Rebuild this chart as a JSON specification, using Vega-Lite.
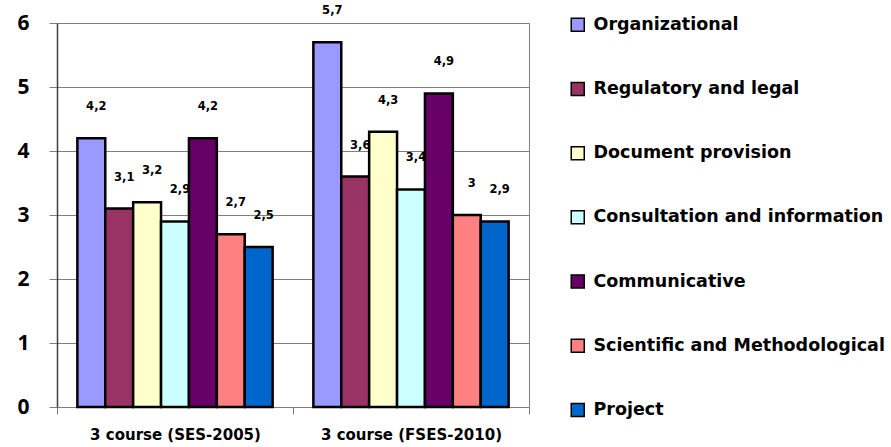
{
  "$schema": "https://vega.github.io/schema/vega-lite/v6.json",
  "width": 472,
  "height": 384,
  "autosize": {"type": "none"},
  "padding": {"left": 57, "top": 23, "right": 362, "bottom": 40},
  "background": "white",
  "config": {
    "font": "DejaVu Sans",
    "view": {"stroke": "#808080", "strokeWidth": 1}
  },
  "data": {
    "values": [
      {"group": "3 course (SES-2005)", "type": "Organizational", "value": 4.2, "label": "4,2"},
      {"group": "3 course (SES-2005)", "type": "Regulatory and legal", "value": 3.1, "label": "3,1"},
      {"group": "3 course (SES-2005)", "type": "Document provision", "value": 3.2, "label": "3,2"},
      {"group": "3 course (SES-2005)", "type": "Consultation and information", "value": 2.9, "label": "2,9"},
      {"group": "3 course (SES-2005)", "type": "Communicative", "value": 4.2, "label": "4,2"},
      {"group": "3 course (SES-2005)", "type": "Scientific and Methodological", "value": 2.7, "label": "2,7"},
      {"group": "3 course (SES-2005)", "type": "Project", "value": 2.5, "label": "2,5"},
      {"group": "3 course (FSES-2010)", "type": "Organizational", "value": 5.7, "label": "5,7"},
      {"group": "3 course (FSES-2010)", "type": "Regulatory and legal", "value": 3.6, "label": "3,6"},
      {"group": "3 course (FSES-2010)", "type": "Document provision", "value": 4.3, "label": "4,3"},
      {"group": "3 course (FSES-2010)", "type": "Consultation and information", "value": 3.4, "label": "3,4"},
      {"group": "3 course (FSES-2010)", "type": "Communicative", "value": 4.9, "label": "4,9"},
      {"group": "3 course (FSES-2010)", "type": "Scientific and Methodological", "value": 3.0, "label": "3"},
      {"group": "3 course (FSES-2010)", "type": "Project", "value": 2.9, "label": "2,9"}
    ]
  },
  "encoding": {
    "x": {
      "field": "group", "type": "nominal", "sort": null,
      "scale": {"paddingInner": 0, "paddingOuter": 0},
      "axis": {
        "title": null, "labelAngle": 0, "tickBand": "extent",
        "domainColor": "#808080", "tickColor": "#808080", "tickSize": 7,
        "labelFont": "DejaVu Sans", "labelFontWeight": "bold", "labelFontSize": 15,
        "labelColor": "black", "labelPadding": 13, "labelLimit": 400
      }
    },
    "xOffset": {
      "field": "type", "type": "nominal", "sort": null,
      "scale": {"paddingInner": 0, "paddingOuter": 0.73}
    },
    "y": {
      "field": "value", "type": "quantitative",
      "scale": {"domain": [0, 6], "nice": false},
      "axis": {
        "title": null, "values": [0, 1, 2, 3, 4, 5, 6],
        "grid": true, "gridColor": "#808080", "gridWidth": 1,
        "domainColor": "#404040", "domainWidth": 1.5, "tickColor": "#808080", "tickSize": 8,
        "labelFont": "Open Sans", "labelFontWeight": "bold", "labelFontSize": 21,
        "labelColor": "black", "labelPadding": 20
      }
    }
  },
  "layer": [
    {
      "mark": {"type": "bar", "stroke": "black", "strokeWidth": 2.5},
      "encoding": {
        "color": {
          "field": "type", "type": "nominal", "sort": null,
          "scale": {
            "domain": ["Organizational", "Regulatory and legal", "Document provision", "Consultation and information", "Communicative", "Scientific and Methodological", "Project"],
            "range": ["#9999FF", "#993366", "#FFFFCC", "#CCFFFF", "#660066", "#FF8080", "#0066CC"]
          },
          "legend": {
            "title": null, "orient": "none", "legendX": 512, "legendY": -7,
            "symbolType": "square", "symbolSize": 169, "symbolStrokeColor": "black",
            "symbolStrokeWidth": 1.5, "symbolOpacity": 1,
            "labelFont": "DejaVu Sans", "labelFontWeight": "bold", "labelFontSize": 17.5,
            "labelColor": "black", "labelLimit": 400, "labelOffset": 7,
            "rowPadding": 44.2, "padding": 0
          }
        }
      }
    },
    {
      "mark": {"type": "text", "font": "DejaVu Sans", "fontWeight": "bold", "fontSize": 11.5, "dy": -31, "dx": 5, "color": "black", "baseline": "middle"},
      "encoding": {
        "text": {"field": "label"}
      }
    }
  ]
}
